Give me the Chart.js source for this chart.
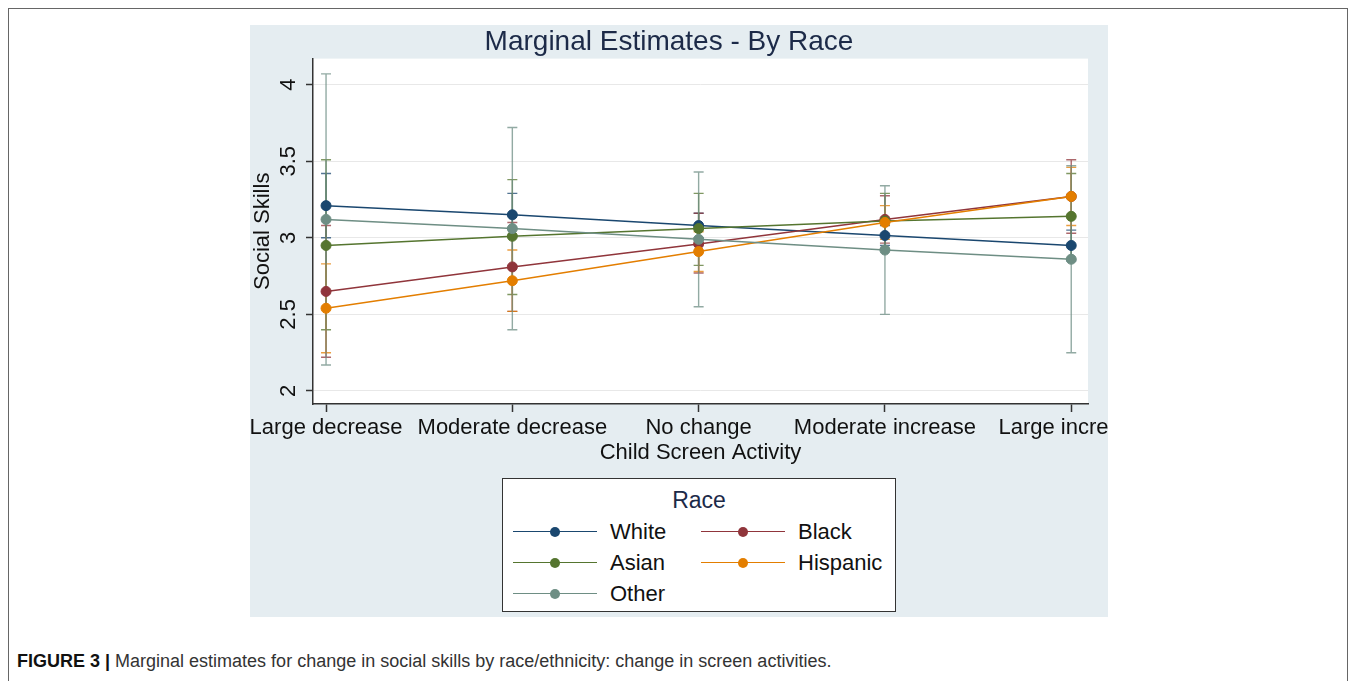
<!DOCTYPE html>
<html><head><meta charset="utf-8">
<script src="https://cdn.jsdelivr.net/npm/chart.js@4.4.1/dist/chart.umd.min.js"></script>
<style>
html,body{margin:0;padding:0;background:#fff;width:1357px;height:681px;overflow:hidden;font-family:"Liberation Sans",Arial,sans-serif;}
#frame{position:absolute;left:8px;top:8px;width:1340px;height:700px;border:1px solid #666;box-sizing:border-box;}
#panel{position:absolute;left:250px;top:25px;width:858px;height:592px;background:#e5edf1;overflow:hidden;}
#cv{position:absolute;left:0;top:0;}
#legend{position:absolute;left:252px;top:453px;width:394px;height:134px;background:#fff;border:1.5px solid #333;box-sizing:border-box;}
#legend .ttl{position:absolute;left:0;width:100%;top:8px;text-align:center;font-size:23px;line-height:26px;color:#1c2a48;}
#legend .item{position:absolute;height:26px;}
#legend .sym{position:absolute;top:12px;height:1.4px;}
#legend .dot{position:absolute;width:10px;height:10px;border-radius:50%;top:-4.3px;}
#legend .lab{position:absolute;top:0;font-size:22px;line-height:26px;color:#111;white-space:nowrap;}
#caption{position:absolute;left:17px;top:650px;font-size:18px;line-height:22px;color:#333;white-space:nowrap;}
#caption b{color:#111;}
</style>
</head>
<body>
<div id="frame"></div>
<div id="panel">
  <canvas id="cv" width="920" height="592"></canvas>
  <div id="legend"></div>
</div>
<div id="caption"><b>FIGURE 3 |</b> Marginal estimates for change in social skills by race/ethnicity: change in screen activities.</div>
<script>
// ---- data ----
const categories = ['Large decrease', 'Moderate decrease', 'No change', 'Moderate increase', 'Large increase'];
const yTicks = [2, 2.5, 3, 3.5, 4];
const seriesNames = ['White', 'Black', 'Asian', 'Hispanic', 'Other'];

const whiteVals    = [3.21, 3.15, 3.08, 3.015, 2.95];
const blackVals    = [2.65, 2.81, 2.96, 3.12, 3.27];
const asianVals    = [2.95, 3.01, 3.06, 3.11, 3.14];
const hispanicVals = [2.54, 2.72, 2.91, 3.10, 3.27];
const otherVals    = [3.12, 3.06, 2.99, 2.92, 2.86];

const whiteLo    = [3.00, 3.01, 3.00, 2.95, 2.85];
const whiteHi    = [3.42, 3.29, 3.16, 3.08, 3.05];
const blackLo    = [2.22, 2.52, 2.77, 2.965, 3.03];
const blackHi    = [3.08, 3.10, 3.16, 3.275, 3.51];
const asianLo    = [2.40, 2.63, 2.82, 2.93, 2.86];
const asianHi    = [3.51, 3.38, 3.29, 3.29, 3.42];
const hispanicLo = [2.25, 2.52, 2.78, 2.99, 3.08];
const hispanicHi = [2.83, 2.92, 3.04, 3.21, 3.46];
const otherLo    = [2.17, 2.40, 2.55, 2.50, 2.25];
const otherHi    = [4.07, 3.72, 3.43, 3.34, 3.47];

// ---- styling ----
const colors = ['#1a476f', '#90353b', '#55752f', '#e37e00', '#6e8e84'];
const allVals = [whiteVals, blackVals, asianVals, hispanicVals, otherVals];
const allLo = [whiteLo, blackLo, asianLo, hispanicLo, otherLo];
const allHi = [whiteHi, blackHi, asianHi, hispanicHi, otherHi];

const FONT = "'Liberation Sans', Arial, Helvetica, sans-serif";
Chart.defaults.font.family = FONT;
Chart.defaults.color = '#111';

const datasets = seriesNames.map((name, i) => ({
  label: name,
  data: allVals[i].map((v, j) => ({x: j, y: v})),
  borderColor: colors[i],
  backgroundColor: colors[i],
  pointBackgroundColor: colors[i],
  pointBorderColor: colors[i],
  borderWidth: 1.5,
  pointRadius: 5,
  pointBorderWidth: 1,
  tension: 0,
  order: 5 - i,
  ciLo: allLo[i],
  ciHi: allHi[i]
}));

const plotBg = {
  id: 'plotBg',
  beforeDraw(chart) {
    const {ctx, chartArea: a} = chart;
    ctx.save();
    ctx.fillStyle = '#ffffff';
    ctx.fillRect(a.left, a.top, a.right - a.left, a.bottom - a.top);
    ctx.restore();
  }
};

const errorBars = {
  id: 'errorBars',
  beforeDatasetsDraw(chart) {
    const {ctx} = chart;
    const xs = chart.scales.x, ys = chart.scales.y;
    chart.data.datasets.forEach((ds) => {
      ctx.save();
      ctx.strokeStyle = ds.borderColor;
      ctx.globalAlpha = 0.75;
      ctx.lineWidth = 1.4;
      ds.ciLo.forEach((lo, j) => {
        const px = xs.getPixelForValue(j);
        const y1 = ys.getPixelForValue(lo);
        const y2 = ys.getPixelForValue(ds.ciHi[j]);
        ctx.beginPath();
        ctx.moveTo(px, y1); ctx.lineTo(px, y2);
        ctx.moveTo(px - 5, y1); ctx.lineTo(px + 5, y1);
        ctx.moveTo(px - 5, y2); ctx.lineTo(px + 5, y2);
        ctx.stroke();
      });
      ctx.restore();
    });
  }
};

new Chart(document.getElementById('cv'), {
  type: 'line',
  data: {datasets},
  plugins: [plotBg, errorBars],
  options: {
    responsive: false,
    animation: false,
    events: [],
    layout: {padding: {left: 0, top: 0, right: 82, bottom: 143}},
    plugins: {
      legend: {display: false},
      tooltip: {enabled: false},
      title: {
        display: true,
        text: 'Marginal Estimates - By Race',
        color: '#1c2a48',
        font: {size: 28, weight: 'normal'},
        padding: {top: 0, bottom: 0}
      }
    },
    scales: {
      x: {
        type: 'linear',
        min: -0.07,
        max: 4.09,
        afterBuildTicks: (s) => { s.ticks = categories.map((c, i) => ({value: i})); },
        afterFit: (s) => { s.height = 70; s.paddingLeft = 0; s.paddingRight = 0; },
        ticks: {
          callback: (v) => categories[v],
          font: {size: 22},
          color: '#111',
          padding: 3,
          maxRotation: 0,
          minRotation: 0,
          autoSkip: false
        },
        grid: {drawOnChartArea: false, drawTicks: true, tickLength: 8, tickColor: '#333', tickWidth: 1.5},
        border: {display: true, color: '#333', width: 1.5},
        title: {display: true, text: 'Child Screen Activity', font: {size: 22}, color: '#111', padding: {top: 0, bottom: 8}}
      },
      y: {
        type: 'linear',
        min: 1.915,
        max: 4.17,
        afterBuildTicks: (s) => { s.ticks = yTicks.map(v => ({value: v})); },
        afterFit: (s) => { s.width = 63; },
        ticks: {
          callback: (v) => String(v),
          font: {size: 22},
          color: '#111',
          padding: 2,
          minRotation: 90,
          maxRotation: 90,
          crossAlign: 'center'
        },
        grid: {color: '#e8e8e8', lineWidth: 1, drawTicks: true, tickLength: 7, tickColor: '#333', tickWidth: 1.5},
        border: {display: true, color: '#333', width: 1.5},
        title: {display: true, text: 'Social Skills', font: {size: 22}, color: '#111', padding: {top: 0, bottom: 0}}
      }
    }
  }
});

// ---- HTML legend (Stata-style boxed legend) ----
const legend = document.getElementById('legend');
legend.innerHTML = '<div class="ttl">Race</div>';
const rowTops = [40, 71, 102];
const colSym = [10, 198];
const colLab = [107, 295];
seriesNames.forEach((name, i) => {
  const row = Math.floor(i / 2), col = i % 2;
  const item = document.createElement('div');
  item.className = 'item';
  item.style.left = '0px';
  item.style.top = rowTops[row] + 'px';
  item.innerHTML =
    '<div class="sym" style="left:' + colSym[col] + 'px;width:84px;background:' + colors[i] + '">' +
    '<div class="dot" style="left:37px;background:' + colors[i] + '"></div></div>' +
    '<div class="lab" style="left:' + colLab[col] + 'px">' + name + '</div>';
  legend.appendChild(item);
});
</script>
</body></html>
